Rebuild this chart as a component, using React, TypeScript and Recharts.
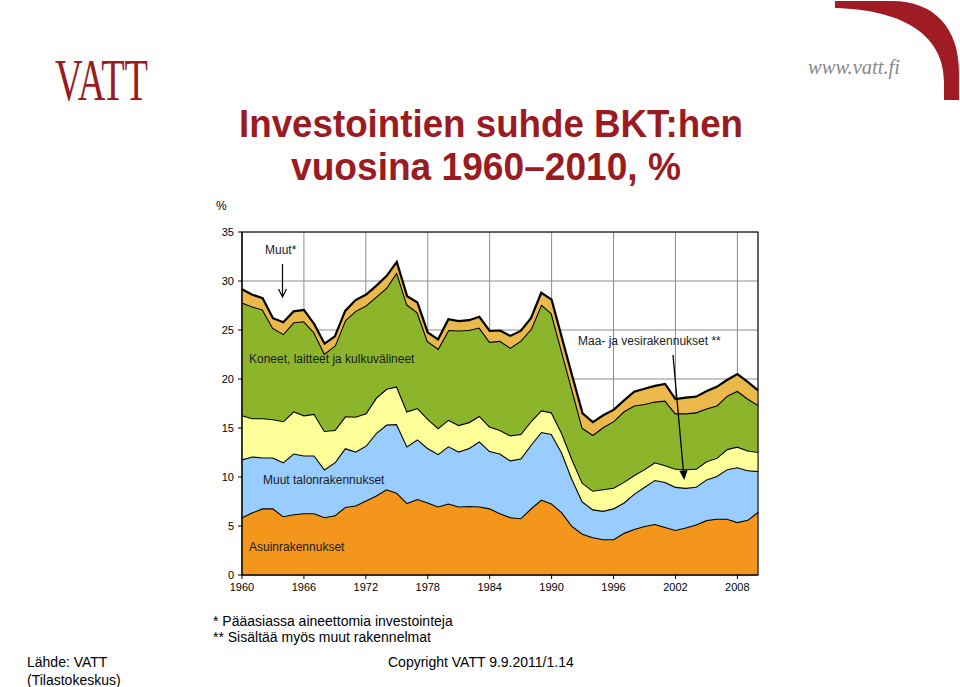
import React from 'react';
import { AreaChart, Area, XAxis, YAxis, CartesianGrid } from 'recharts';

const years = [
  1960, 1961, 1962, 1963, 1964, 1965, 1966, 1967, 1968, 1969,
  1970, 1971, 1972, 1973, 1974, 1975, 1976, 1977, 1978, 1979,
  1980, 1981, 1982, 1983, 1984, 1985, 1986, 1987, 1988, 1989,
  1990, 1991, 1992, 1993, 1994, 1995, 1996, 1997, 1998, 1999,
  2000, 2001, 2002, 2003, 2004, 2005, 2006, 2007, 2008, 2009, 2010,
];

const xTicks = [1960, 1966, 1972, 1978, 1984, 1990, 1996, 2002, 2008];
const yTicks = [0, 5, 10, 15, 20, 25, 30, 35];

// Asuinrakennukset
const asuin = [
  5.9, 6.4, 6.8, 6.8, 6.0, 6.2, 6.3, 6.3, 5.9, 6.1,
  6.95, 7.1, 7.6, 8.1, 8.75, 8.4, 7.35, 7.75, 7.4, 7.0,
  7.3, 7.0, 7.05, 7.0, 6.8, 6.3, 5.9, 5.8, 6.8, 7.7,
  7.3, 6.4, 5.0, 4.2, 3.85, 3.65, 3.65, 4.3, 4.7, 5.0,
  5.2, 4.9, 4.6, 4.85, 5.15, 5.6, 5.75, 5.75, 5.4, 5.65, 6.45,
];

// Muut talonrakennukset
const muutTalon = [
  5.9, 5.7, 5.2, 5.2, 5.5, 6.2, 5.9, 5.9, 4.9, 5.4,
  6.0, 5.5, 5.6, 6.4, 6.6, 7.0, 5.8, 6.1, 5.55, 5.35,
  5.85, 5.6, 5.9, 6.65, 5.85, 6.1, 5.8, 6.1, 6.5, 6.9,
  7.1, 6.1, 4.8, 3.3, 2.85, 2.9, 3.15, 3.1, 3.6, 4.0,
  4.5, 4.6, 4.4, 4.05, 3.85, 4.15, 4.35, 5.05, 5.6, 5.05, 4.15,
];

// Maa- ja vesirakennukset
const maaVesi = [
  4.5, 3.9, 4.0, 3.9, 4.2, 4.3, 4.1, 4.25, 3.9, 3.3,
  3.25, 3.55, 3.3, 3.6, 3.65, 3.85, 3.55, 3.2, 3.0, 2.65,
  2.7, 2.7, 2.65, 2.6, 2.5, 2.4, 2.55, 2.5, 2.4, 2.2,
  2.2, 2.0, 2.0, 1.9, 1.9, 2.2, 2.1, 2.1, 1.9, 1.8,
  1.8, 1.7, 1.85, 1.9, 1.85, 1.85, 1.85, 2.05, 2.1, 2.0, 1.95,
];

// Koneet, laitteet ja kulkuvälineet
const koneet = [
  11.5, 11.4, 11.1, 9.3, 8.9, 9.1, 9.6, 8.3, 7.9, 8.6,
  9.8, 10.8, 11.0, 10.3, 10.3, 11.65, 10.9, 9.75, 7.9, 8.1,
  9.15, 9.65, 9.4, 9.0, 8.65, 9.1, 8.95, 9.5, 9.4, 10.8,
  10.1, 8.3, 7.1, 5.6, 5.7, 6.35, 6.8, 7.2, 7.1, 6.65,
  6.2, 6.6, 5.65, 5.7, 5.75, 5.4, 5.35, 5.45, 5.7, 5.3, 4.8,
];

// Muut*
const muut = [
  1.35, 1.2, 1.15, 1.0, 1.2, 1.1, 1.15, 0.85, 1.0, 0.95,
  0.95, 1.1, 1.1, 1.1, 1.2, 1.05, 0.85, 1.0, 0.9, 0.95,
  1.1, 0.95, 1.0, 1.1, 1.1, 1.05, 1.2, 1.0, 1.1, 1.2,
  1.4, 1.4, 1.4, 1.5, 1.3, 1.2, 1.15, 1.1, 1.4, 1.55,
  1.6, 1.7, 1.45, 1.6, 1.6, 1.75, 1.9, 1.6, 1.7, 1.7, 1.5,
];

const data = years.map((year, i) => ({
  year,
  asuin: asuin[i],
  muutTalon: muutTalon[i],
  maaVesi: maaVesi[i],
  koneet: koneet[i],
  muut: muut[i],
}));

const FONT = '"Liberation Sans", Arial, Helvetica, sans-serif';
const SERIF = '"Liberation Serif", "DejaVu Serif", serif';
const RED = '#9B1B22';

export default function App() {
  const tickStyle = { fontSize: 11, fill: '#000', fontFamily: FONT };
  return (
    <div
      style={{
        position: 'absolute',
        left: 0,
        top: 0,
        width: 960,
        height: 687,
        background: '#fff',
        overflow: 'hidden',
      }}
    >
      <AreaChart
        width={960}
        height={687}
        data={data}
        margin={{ top: 232, right: 202, bottom: 82, left: 192 }}
      >
        <CartesianGrid stroke="#8c8c8c" strokeWidth={1} />
        <XAxis
          dataKey="year"
          type="number"
          domain={[1960, 2010]}
          ticks={xTicks}
          interval={0}
          height={30}
          tickSize={4}
          tickMargin={4}
          axisLine={{ stroke: '#000' }}
          tickLine={{ stroke: '#000' }}
          tick={tickStyle}
        />
        <YAxis
          type="number"
          domain={[0, 35]}
          ticks={yTicks}
          interval={0}
          width={50}
          tickSize={4}
          tickMargin={4}
          axisLine={{ stroke: '#000' }}
          tickLine={{ stroke: '#000' }}
          tick={tickStyle}
        />
        <Area type="linear" dataKey="asuin" stackId="1" stroke="#000" strokeWidth={2.2} fill="#F5961C" fillOpacity={1} dot={false} activeDot={false} isAnimationActive={false} />
        <Area type="linear" dataKey="muutTalon" stackId="1" stroke="#000" strokeWidth={2.2} fill="#99CCFF" fillOpacity={1} dot={false} activeDot={false} isAnimationActive={false} />
        <Area type="linear" dataKey="maaVesi" stackId="1" stroke="#000" strokeWidth={2.2} fill="#FFFF99" fillOpacity={1} dot={false} activeDot={false} isAnimationActive={false} />
        <Area type="linear" dataKey="koneet" stackId="1" stroke="#000" strokeWidth={2.2} fill="#8DB52C" fillOpacity={1} dot={false} activeDot={false} isAnimationActive={false} />
        <Area type="linear" dataKey="muut" stackId="1" stroke="#000" strokeWidth={2.2} fill="#EBB84B" fillOpacity={1} dot={false} activeDot={false} isAnimationActive={false} />
      </AreaChart>

      <svg
        width={960}
        height={687}
        style={{ position: 'absolute', left: 0, top: 0, pointerEvents: 'none' }}
      >
        {/* plot frame */}
        <rect x={242} y={232} width={516} height={343} fill="none" stroke="#000" strokeWidth={1} />

        {/* logo and corner */}
        <text x={55} y={100} fontFamily={SERIF} fontSize={60} fill={RED} textLength={93} lengthAdjust="spacingAndGlyphs">VATT</text>
        <text x={808} y={74} fontFamily={SERIF} fontStyle="italic" fontSize={20} fill="#8a8a8a" textLength={92} lengthAdjust="spacingAndGlyphs">www.vatt.fi</text>
        <path d="M835,1 H892 C934,1 959,28 959,72 V100 H944 V82 C944,38 908,10 835,8 Z" fill="#A01C24" />

        {/* title */}
        <text x={239} y={137} fontFamily={FONT} fontWeight="bold" fontSize={38} fill={RED} textLength={504} lengthAdjust="spacingAndGlyphs">Investointien suhde BKT:hen</text>
        <text x={291} y={180} fontFamily={FONT} fontWeight="bold" fontSize={38} fill={RED} textLength={390} lengthAdjust="spacingAndGlyphs">vuosina 1960–2010, %</text>

        {/* axis unit */}
        <text x={216} y={210} fontFamily={FONT} fontSize={12} fill="#000">%</text>

        {/* annotations */}
        <g fontFamily={FONT} fontSize={12} fill="#1a1a1a">
          <text x={265} y={254}>Muut*</text>
          <text x={249} y={363}>Koneet, laitteet ja kulkuvälineet</text>
          <text x={578} y={345}>Maa- ja vesirakennukset **</text>
          <text x={263} y={484}>Muut talonrakennukset</text>
          <text x={249} y={551}>Asuinrakennukset</text>
        </g>
        <line x1={282.5} y1={264} x2={282.5} y2={296} stroke="#000" strokeWidth={1.2} />
        <polyline points="278.5,289 282.5,297 286.5,289" fill="none" stroke="#000" strokeWidth={1.2} />
        <line x1={673} y1={355} x2={683.5} y2={472} stroke="#000" strokeWidth={1.3} />
        <polygon points="684.2,480 679.3,470.8 687.6,470.2" fill="#000" />

        {/* footnotes */}
        <g fontFamily={FONT} fontSize={14} fill="#000">
          <text x={213} y={626}>* Pääasiassa aineettomia investointeja</text>
          <text x={213} y={642}>** Sisältää myös muut rakennelmat</text>
          <text x={27} y={667}>Lähde: VATT</text>
          <text x={27} y={685}>(Tilastokeskus)</text>
          <text x={388} y={667}>Copyright VATT 9.9.2011/1.14</text>
        </g>
      </svg>
    </div>
  );
}
